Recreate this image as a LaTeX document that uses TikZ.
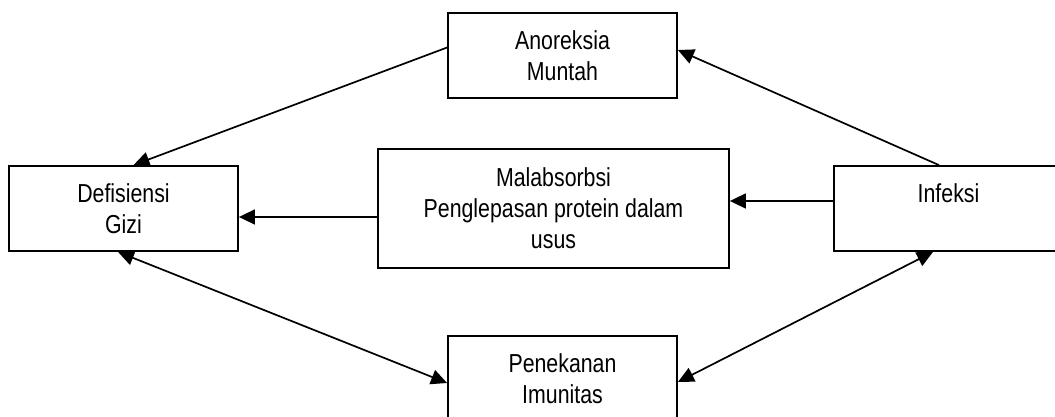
\documentclass[tikz,border=0pt]{standalone}
\usepackage{fontspec}
\setmainfont[FakeStretch=0.82]{Liberation Sans}
\usetikzlibrary{arrows.meta}
\begin{document}
\begin{tikzpicture}[x=1pt,y=-1pt,
  box/.style={draw, line width=1.8pt, align=center, inner sep=0pt,
    font=\fontsize{26}{31}\selectfont},
  smallbox/.style={box, minimum width=229pt, minimum height=85pt},
  tip/.tip={Triangle[length=16pt,width=15pt]},
  link/.style={line width=1.7pt, -tip},
  twoway/.style={line width=1.7pt, tip-tip}]
\useasboundingbox (0,0) rectangle (1055,417);
\clip (0,0) rectangle (1055,417);

% boxes
\node[smallbox] (ano) at (562.5,55.5) {Anoreksia\\Muntah};
\node[smallbox] (def) at (123.5,208.5) {Defisiensi\\Gizi};
\node[box, minimum width=351pt, minimum height=119pt] (mal) at (553.5,208.5)
  {Malabsorbsi\\Penglepasan protein dalam\\usus};
\node[smallbox] (inf) at (948.5,208.5) {Infeksi\\\mbox{}};
\node[smallbox] (pen) at (562.5,378.5) {Penekanan\\Imunitas};

% connectors
\draw[link] ([yshift=8pt]ano.west) -- ([xshift=10pt]def.north);
\draw[link] ([xshift=-9.5pt]inf.north) -- ([yshift=5.5pt]ano.east);
\draw[link] ([yshift=7.5pt]inf.west) -- ([yshift=7.5pt]mal.east);
\draw[link] ([yshift=-8.5pt]mal.west) -- ([yshift=-8.5pt]def.east);
\draw[twoway] ([xshift=-5.5pt]def.south) -- ([yshift=-4.5pt]pen.west);
\draw[twoway] ([xshift=-15.5pt]inf.south) -- ([yshift=-3.5pt]pen.east);
\end{tikzpicture}
\end{document}
